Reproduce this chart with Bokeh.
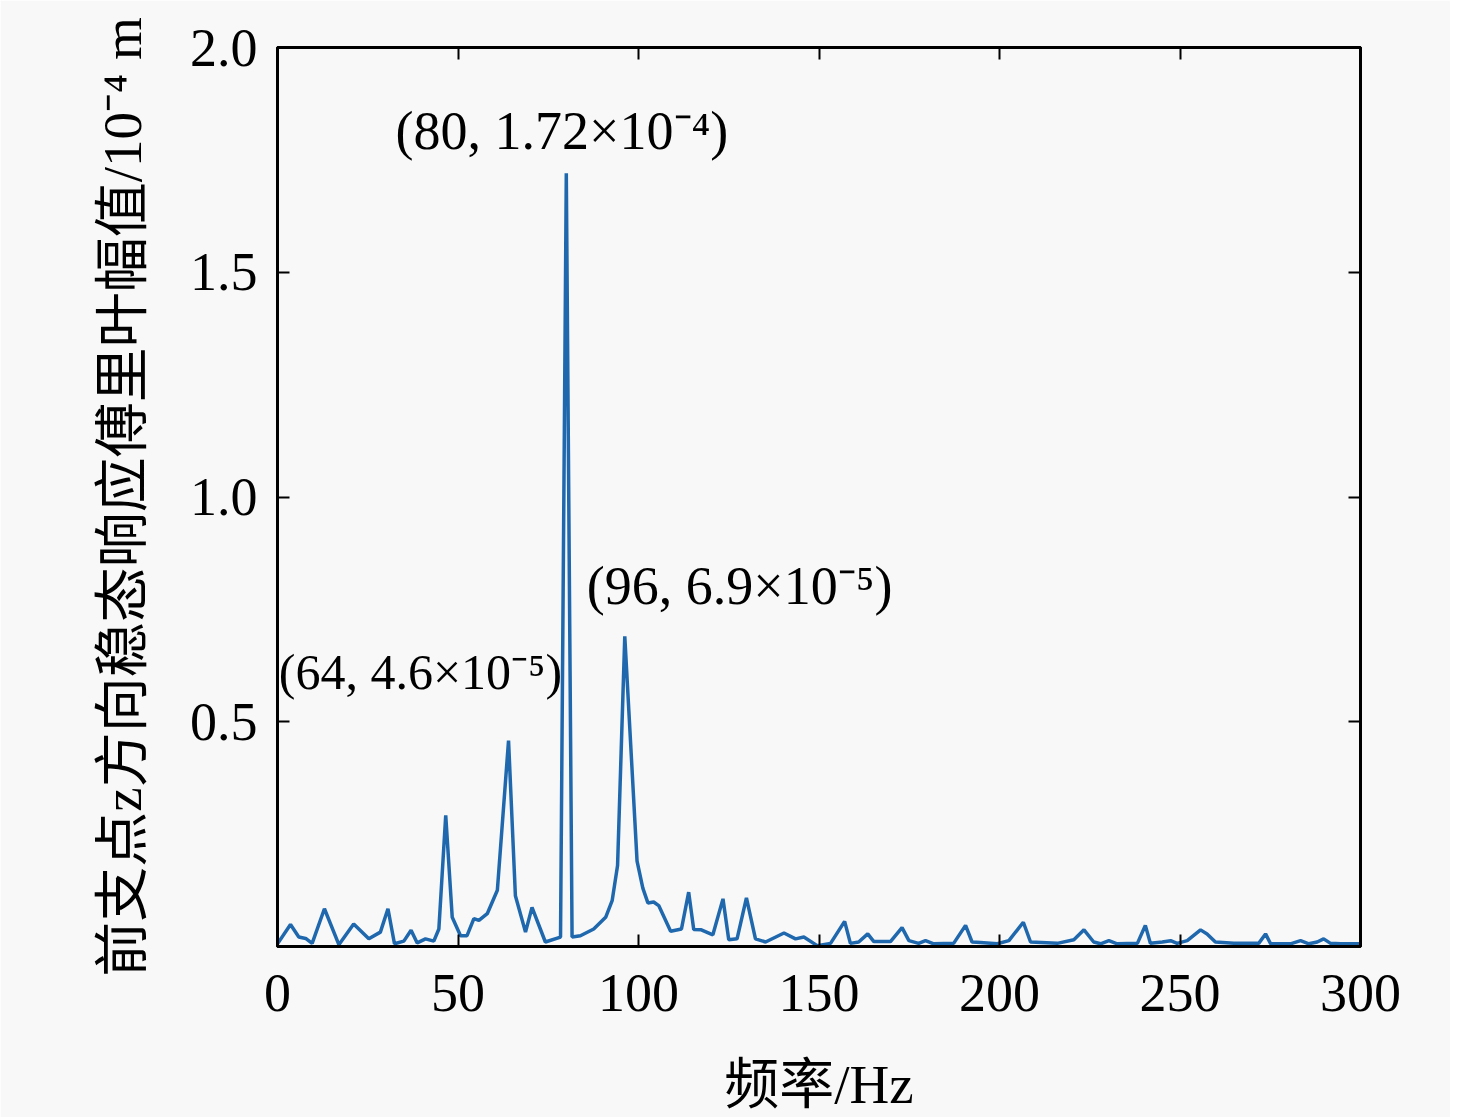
from bokeh.plotting import figure
from bokeh.models import Range1d, LinearAxis, FixedTicker, NumeralTickFormatter, Label
from bokeh.embed import file_html
from bokeh.resources import INLINE

freq = [0, 3.6, 5.9, 7.8, 9.6, 13.0, 17.0, 21.1, 25.3, 28.5, 30.6, 32.4, 35.0, 37.0,
        38.7, 41.0, 43.3, 44.7, 46.6, 48.4, 50.7, 52.5, 54.4, 55.8, 58.1, 60.9, 64.0,
        65.9, 68.7, 70.5, 74.2, 78.4, 80.0, 81.6, 83.9, 87.6, 90.9, 92.7, 94.2, 96.2,
        99.6, 101.2, 102.6, 104.2, 105.6, 108.9, 111.9, 113.9, 115.3, 117.4, 120.6,
        123.4, 125.0, 127.3, 129.9, 132.4, 135.2, 140.3, 143.5, 145.8, 149.5, 153.2,
        157.1, 158.7, 161.0, 163.5, 165.2, 169.8, 173.0, 174.9, 177.6, 179.5, 181.8,
        187.3, 190.6, 192.4, 194.7, 199.4, 202.6, 206.6, 208.6, 216.0, 220.6, 223.4,
        226.1, 228.0, 230.3, 232.6, 238.2, 240.4, 241.8, 245.1, 247.4, 249.2, 252.0,
        255.7, 257.5, 259.8, 264.9, 267.7, 271.8, 273.7, 275.1, 280.6, 283.4, 285.7,
        288.0, 289.8, 291.7, 294.5, 300]
amp = [0.006, 0.049, 0.021, 0.018, 0.007, 0.084, 0.004, 0.050, 0.017, 0.032, 0.084,
       0.006, 0.012, 0.036, 0.008, 0.017, 0.012, 0.039, 0.292, 0.065, 0.024, 0.024,
       0.062, 0.058, 0.073, 0.125, 0.458, 0.113, 0.032, 0.087, 0.010, 0.021, 1.72,
       0.021, 0.024, 0.039, 0.065, 0.102, 0.18, 0.69, 0.19, 0.13, 0.097, 0.099, 0.091,
       0.034, 0.039, 0.121, 0.038, 0.037, 0.026, 0.106, 0.015, 0.017, 0.108, 0.017,
       0.010, 0.030, 0.017, 0.021, 0.002, 0.007, 0.056, 0.007, 0.010, 0.028, 0.011,
       0.011, 0.042, 0.013, 0.007, 0.013, 0.006, 0.007, 0.047, 0.010, 0.009, 0.006,
       0.013, 0.054, 0.010, 0.007, 0.015, 0.037, 0.010, 0.006, 0.013, 0.006, 0.007,
       0.047, 0.007, 0.010, 0.013, 0.007, 0.013, 0.037, 0.028, 0.010, 0.007, 0.007,
       0.007, 0.028, 0.006, 0.006, 0.013, 0.006, 0.010, 0.017, 0.007, 0.006, 0.006]

x_ticks = [0, 50, 100, 150, 200, 250, 300]
y_ticks = [0.5, 1.0, 1.5, 2.0]

ann_text = ["(80, 1.72×10⁻⁴)", "(96, 6.9×10⁻⁵)", "(64, 4.6×10⁻⁵)"]
ann_x = [78.8, 128.0, 39.6]
ann_y = [1.815, 0.803, 0.610]

FONT = "'Liberation Serif', 'Times New Roman', 'Noto Sans CJK SC'"
BG = "#f8f8f8"
ann_sizes = ["54px", "54px", "50px"]

p = figure(frame_width=1083, frame_height=899, output_backend="svg", toolbar_location=None,
           x_range=Range1d(0, 300), y_range=Range1d(0, 2.0),
           min_border_left=277, min_border_top=47, min_border_right=90, min_border_bottom=160,
           background_fill_color=BG, border_fill_color=BG)
p.grid.visible = False
p.outline_line_color = "black"
p.outline_line_width = 3

p.line(freq, amp, line_color="#1f68ad", line_width=3.5)

def style(ax, ticks, labels=True):
    ax.ticker = FixedTicker(ticks=ticks)
    ax.axis_line_color = "black"
    ax.axis_line_width = 3
    ax.major_tick_in = 12
    ax.major_tick_out = 0
    ax.major_tick_line_width = 2
    ax.major_tick_line_color = "black"
    ax.minor_tick_line_color = None
    ax.major_label_text_font = FONT
    ax.major_label_text_color = "black"
    ax.major_label_text_font_size = "54px"
    if not labels:
        ax.major_label_overrides = {t: "" for t in ticks}
        ax.major_label_standoff = 0

style(p.xaxis[0], x_ticks)
style(p.yaxis[0], y_ticks)
p.yaxis[0].formatter = NumeralTickFormatter(format="0.0")
p.xaxis[0].major_label_standoff = 28
p.yaxis[0].major_label_standoff = 20

p.xaxis[0].axis_label = "频率/Hz"
p.yaxis[0].axis_label = "前支点z方向稳态响应傅里叶幅值/10⁻⁴ m"
for ax in (p.xaxis[0], p.yaxis[0]):
    ax.axis_label_text_font = FONT
    ax.axis_label_text_font_size = "55px"
    ax.axis_label_text_font_style = "normal"
    ax.axis_label_text_color = "black"
p.xaxis[0].axis_label_standoff = 40
p.yaxis[0].axis_label_standoff = 34

top = LinearAxis()
style(top, x_ticks, labels=False)
p.add_layout(top, "above")
right = LinearAxis()
style(right, y_ticks, labels=False)
p.add_layout(right, "right")

for t, x, y, s in zip(ann_text, ann_x, ann_y, ann_sizes):
    p.add_layout(Label(x=x, y=y, text=t, text_align="center", text_baseline="middle",
                       text_font=FONT, text_font_size=s, text_color="black"))

open("out.html", "w").write(file_html(p, INLINE))
